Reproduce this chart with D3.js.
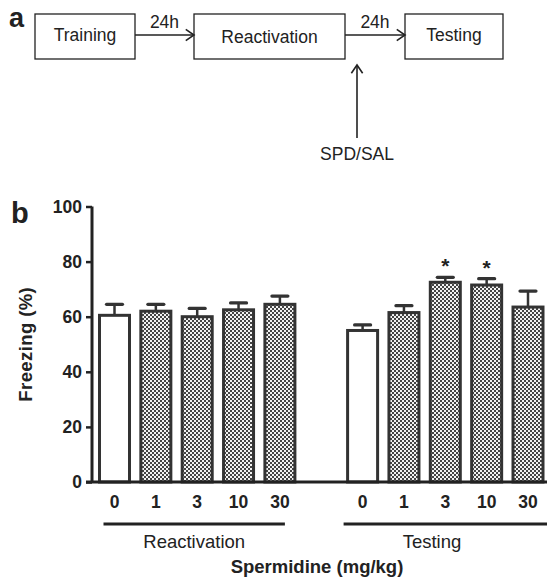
<!DOCTYPE html>
<html>
<head>
<meta charset="utf-8">
<script src="https://cdn.jsdelivr.net/npm/d3@7"></script>
<style>
  body { margin: 0; background: #fff; }
  svg { font-family: "Liberation Sans", Arial, sans-serif; }
</style>
</head>
<body>
<svg width="547" height="588"></svg>
<script>
// data
var doses = ["0", "1", "3", "10", "30"];
var groups = ["Reactivation", "Testing"];
var reactMean = [60.5, 62, 60, 62.5, 64.5];
var reactSem = [4, 2.5, 3, 2.5, 3];
var testMean = [55, 61.5, 72.5, 71.5, 63.5];
var testSem = [2, 2.5, 1.8, 2.3, 5.8];
var sigMarks = [false, false, true, true, false]; // testing only
var yTicks = [0, 20, 40, 60, 80, 100];
var steps = ["Training", "Reactivation", "Testing"];
var intervals = ["24h", "24h"];

var svg = d3.select("svg");
var ink = "#222";

// pattern fill for drug bars
var defs = svg.append("defs");
var pat = defs.append("pattern")
    .attr("id", "checker")
    .attr("width", 4).attr("height", 4)
    .attr("patternUnits", "userSpaceOnUse");
pat.append("rect").attr("width", 4).attr("height", 4).attr("fill", "#f2f2f2");
pat.append("rect").attr("x", 0).attr("y", 0).attr("width", 2).attr("height", 2).attr("fill", "#444");
pat.append("rect").attr("x", 2).attr("y", 2).attr("width", 2).attr("height", 2).attr("fill", "#444");

// ---------- panel a : timeline ----------
var a = svg.append("g");
a.append("text").attr("x", 9).attr("y", 27)
    .style("font-size", "27px").style("font-weight", "bold").attr("fill", ink).text("a");

var boxes = [
    {name: steps[0], x0: 35, x1: 135},
    {name: steps[1], x0: 194, x1: 345},
    {name: steps[2], x0: 405, x1: 503}
];
a.selectAll("rect.box").data(boxes).enter().append("rect")
    .attr("class", "box")
    .attr("x", function (d) { return d.x0; })
    .attr("y", 14)
    .attr("width", function (d) { return d.x1 - d.x0; })
    .attr("height", 45)
    .attr("fill", "none").attr("stroke", ink).attr("stroke-width", 1.3);
a.selectAll("text.box").data(boxes).enter().append("text")
    .attr("x", function (d) { return (d.x0 + d.x1) / 2; })
    .attr("y", function (d, i) { return i == 1 ? 43 : 41; })
    .attr("text-anchor", "middle")
    .style("font-size", "17.5px").attr("fill", ink)
    .text(function (d) { return d.name; });

function arrow(x1, y1, x2, y2) {
    var ang = Math.atan2(y2 - y1, x2 - x1), h = 10, w = 0.6;
    a.append("line").attr("x1", x1).attr("y1", y1).attr("x2", x2).attr("y2", y2)
        .attr("stroke", ink).attr("stroke-width", 1.6);
    a.append("path")
        .attr("d", "M" + (x2 - h * Math.cos(ang - w)) + "," + (y2 - h * Math.sin(ang - w)) +
            "L" + x2 + "," + y2 +
            "L" + (x2 - h * Math.cos(ang + w)) + "," + (y2 - h * Math.sin(ang + w)))
        .attr("fill", "none").attr("stroke", ink).attr("stroke-width", 1.6);
}
for (var i = 0; i < 2; i++) {
    var xa = boxes[i].x1, xb = boxes[i + 1].x0;
    arrow(xa, 35, xb, 35);
    a.append("text").attr("x", (xa + xb) / 2).attr("y", 28)
        .attr("text-anchor", "middle").style("font-size", "17.5px").attr("fill", ink)
        .text(intervals[i]);
}
arrow(357, 138, 357, 65);
a.append("text").attr("x", 357).attr("y", 160).attr("text-anchor", "middle")
    .style("font-size", "17.5px").attr("fill", ink).text("SPD/SAL");

// ---------- panel b : bar chart ----------
var axisX = 92;
var y = d3.scaleLinear().domain([0, 100]).range([482, 206.5]);
// slot 5 is the empty gap between the two groups
var x = d3.scaleLinear().domain([0, 10]).range([114.5, 528]);
var barW = 30;

svg.append("text").attr("x", 11).attr("y", 223)
    .style("font-size", "29px").style("font-weight", "bold").attr("fill", ink).text("b");

var bars = [];
doses.forEach(function (d, i) {
    bars.push({dose: d, slot: i, mean: reactMean[i], sem: reactSem[i], star: false});
});
doses.forEach(function (d, i) {
    bars.push({dose: d, slot: i + 6, mean: testMean[i], sem: testSem[i], star: sigMarks[i]});
});

var gb = svg.append("g");
// error bars (upper only)
gb.selectAll("line.err").data(bars).enter().append("line")
    .attr("x1", function (d) { return x(d.slot); })
    .attr("x2", function (d) { return x(d.slot); })
    .attr("y1", function (d) { return y(d.mean); })
    .attr("y2", function (d) { return y(d.mean + d.sem); })
    .attr("stroke", "#333").attr("stroke-width", 2.5);
gb.selectAll("line.cap").data(bars).enter().append("line")
    .attr("x1", function (d) { return x(d.slot) - 8; })
    .attr("x2", function (d) { return x(d.slot) + 8; })
    .attr("y1", function (d) { return y(d.mean + d.sem); })
    .attr("y2", function (d) { return y(d.mean + d.sem); })
    .attr("stroke", "#333").attr("stroke-width", 3.2).attr("stroke-linecap", "round");

gb.selectAll("rect.bar").data(bars).enter().append("rect")
    .attr("x", function (d) { return x(d.slot) - barW / 2; })
    .attr("y", function (d) { return y(d.mean); })
    .attr("width", barW)
    .attr("height", function (d) { return y(0) - y(d.mean); })
    .attr("fill", function (d) { return d.dose == "0" ? "#fff" : "url(#checker)"; })
    .attr("stroke", "#333").attr("stroke-width", 3);

gb.selectAll("text.star").data(bars.filter(function (d) { return d.star; })).enter().append("text")
    .attr("x", function (d) { return x(d.slot); })
    .attr("y", function (d) { return y(d.mean + d.sem) - 4; })
    .attr("text-anchor", "middle")
    .style("font-size", "21px").style("font-weight", "bold").attr("fill", ink)
    .text("*");

// y axis
var yAxis = d3.axisLeft(y).tickValues(yTicks).tickSize(6).tickPadding(4);
var gy = svg.append("g").attr("transform", "translate(" + axisX + ",0)").call(yAxis);
gy.select(".domain").attr("stroke", ink).attr("stroke-width", 3).attr("d", "M0," + y(100) + "V" + y(0));
gy.selectAll(".tick line").attr("stroke", ink).attr("stroke-width", 2.5);
gy.selectAll(".tick text").attr("fill", ink)
    .style("font-size", "17.5px").style("font-weight", "bold")
    .style("font-family", "'Liberation Sans', Arial, sans-serif");

// x baseline
svg.append("line").attr("x1", axisX - 6).attr("x2", 547)
    .attr("y1", y(0)).attr("y2", y(0))
    .attr("stroke", ink).attr("stroke-width", 3);

// dose labels
svg.selectAll("text.dose").data(bars).enter().append("text")
    .attr("x", function (d) { return x(d.slot); })
    .attr("y", 508)
    .attr("text-anchor", "middle")
    .style("font-size", "17.5px").style("font-weight", "bold").attr("fill", ink)
    .text(function (d) { return d.dose; });

// group lines and names
var grp = [
    {name: groups[0], x0: x(0) - 11, x1: x(4) + 5},
    {name: groups[1], x0: x(6) - 19, x1: 547}
];
svg.selectAll("line.grp").data(grp).enter().append("line")
    .attr("x1", function (d) { return d.x0; })
    .attr("x2", function (d) { return d.x1; })
    .attr("y1", 524).attr("y2", 524)
    .attr("stroke", ink).attr("stroke-width", 2.8);
svg.selectAll("text.grp").data(grp).enter().append("text")
    .attr("x", function (d, i) { return i == 0 ? (d.x0 + d.x1) / 2 : 432; })
    .attr("y", 548)
    .attr("text-anchor", "middle")
    .style("font-size", "18.5px").attr("fill", ink)
    .text(function (d) { return d.name; });

svg.append("text").attr("x", 317).attr("y", 573).attr("text-anchor", "middle")
    .style("font-size", "18.5px").style("font-weight", "bold").attr("fill", ink)
    .text("Spermidine (mg/kg)");

svg.append("text")
    .attr("transform", "translate(32," + y(50) + ") rotate(-90)")
    .attr("text-anchor", "middle")
    .style("font-size", "18.5px").style("font-weight", "bold").style("letter-spacing", "0.4px")
    .attr("fill", ink)
    .text("Freezing (%)");
</script>
</body>
</html>
